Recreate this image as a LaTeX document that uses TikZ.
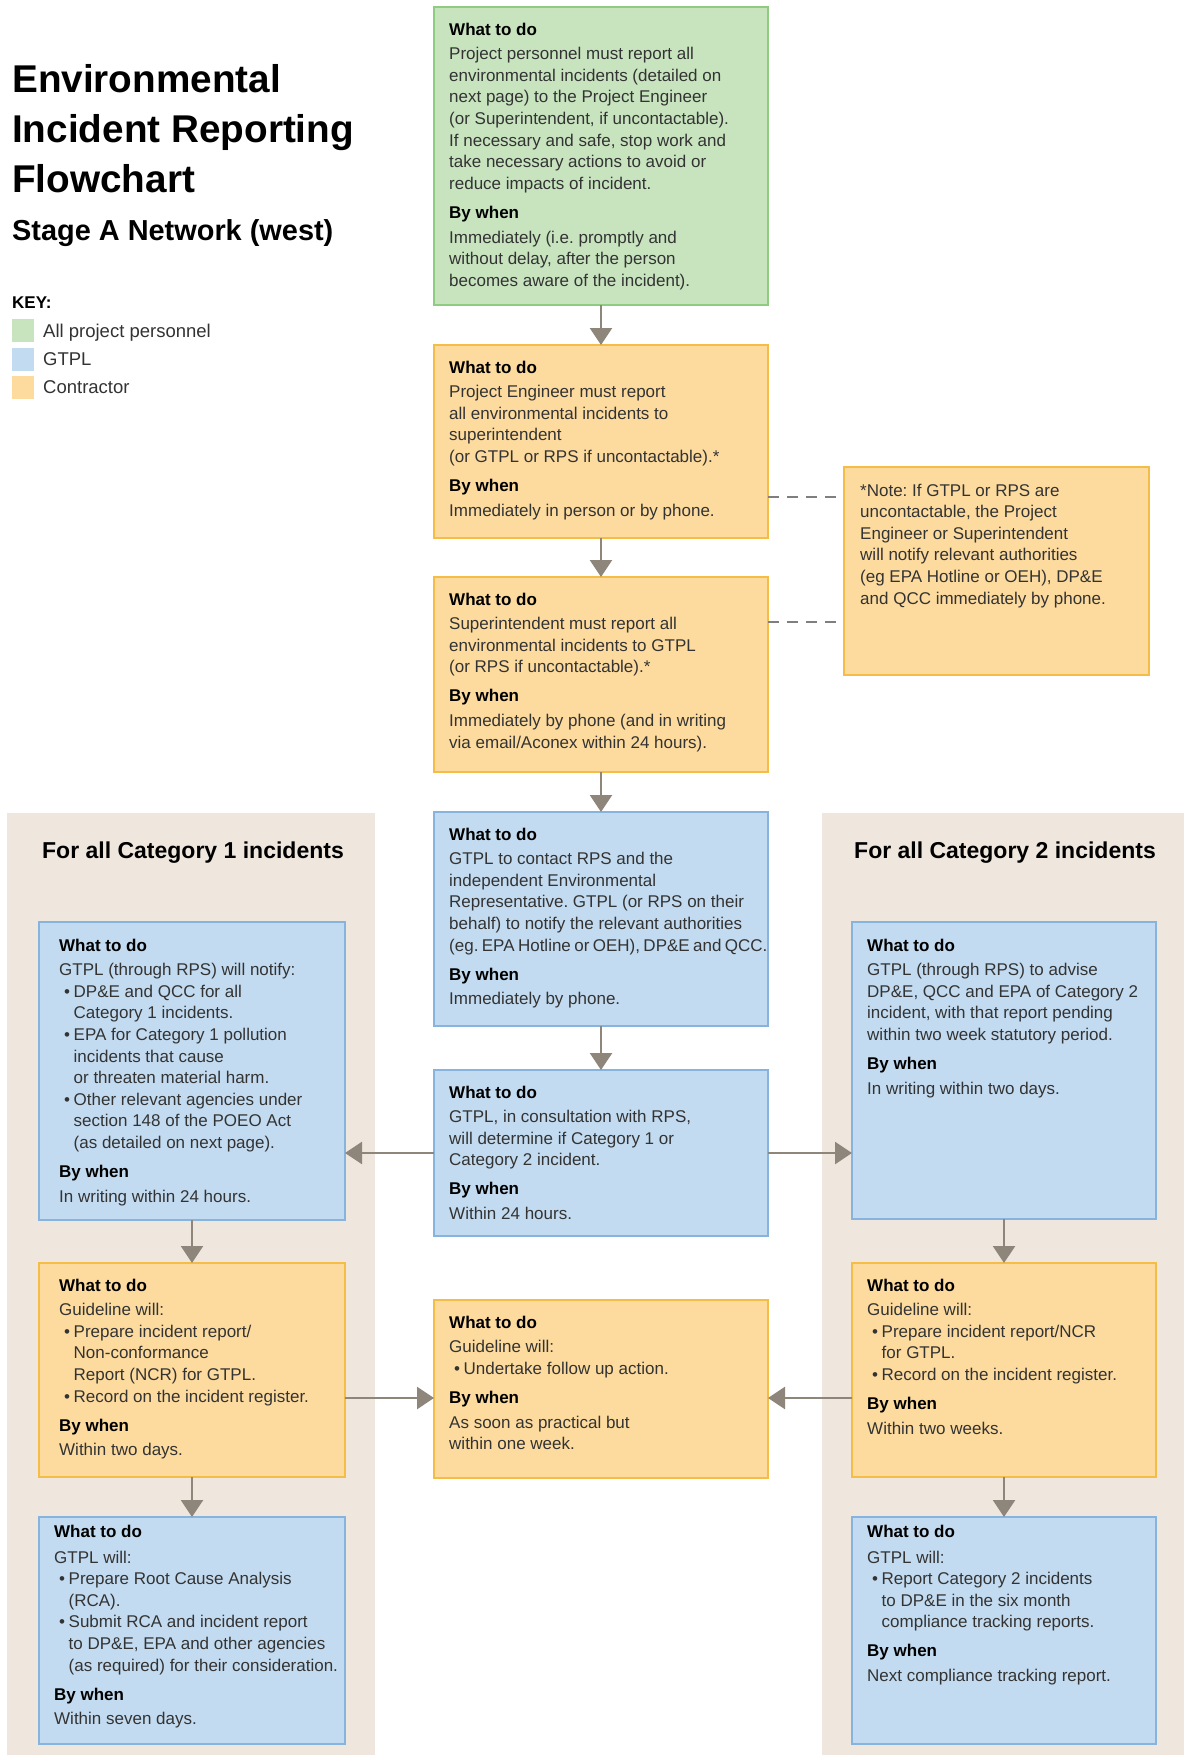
\documentclass[tikz,border=0pt]{standalone}
\usepackage{fontspec}
\setmainfont{Liberation Sans}
\usetikzlibrary{arrows.meta}
\frenchspacing
\definecolor{gfill}{HTML}{C8E4BF}
\definecolor{gline}{HTML}{8FCB80}
\definecolor{bfill}{HTML}{C3DBF0}
\definecolor{bline}{HTML}{86B4DE}
\definecolor{ofill}{HTML}{FDDB9E}
\definecolor{oline}{HTML}{F5BD45}
\definecolor{panelc}{HTML}{EFE7DD}
\definecolor{arrc}{HTML}{8E857B}
\definecolor{bodyc}{HTML}{333333}
\definecolor{dashc}{HTML}{7F7F7F}
\newcommand\hd[1]{{\bfseries\color{black}#1}}
\newcommand\bul{\hspace*{5pt}\makebox[9.5pt][l]{\textbullet}}
\newcommand\ind{\hspace*{14.5pt}}
\tikzset{
  bx/.style={draw, line width=2.5pt, anchor=north west, inner sep=0pt, outer sep=0pt},
  gbox/.style={bx, fill=gfill, draw=gline},
  bbox/.style={bx, fill=bfill, draw=bline},
  obox/.style={bx, fill=ofill, draw=oline},
  panelbox/.style={anchor=north west, fill=panelc, inner sep=0pt, outer sep=0pt},
  txt/.style={anchor=north west, align=left, inner sep=0pt, text=bodyc, font=\fontsize{17}{21.6}\selectfont},
  arr/.style={draw=arrc, line width=2.5pt, -{Triangle[length=17pt,width=22pt]}},
  dsh/.style={draw=dashc, line width=2pt, dash pattern=on 11pt off 8pt},
  keysq/.style={anchor=north west, inner sep=0pt, minimum width=22pt, minimum height=23pt},
  keylbl/.style={anchor=base west, inner sep=0pt, text=bodyc, font=\fontsize{18.5}{22}\selectfont},
  ttl/.style={anchor=base west, inner sep=0pt, font=\fontsize{38.7}{50}\selectfont\bfseries},
  cathd/.style={anchor=base, inner sep=0pt, font=\fontsize{23}{28}\selectfont\bfseries}
}
\begin{document}
\begin{tikzpicture}[x=1pt,y=-1pt]
\fill[white] (0,0) rectangle (1184,1755);
\useasboundingbox (0,0) rectangle (1184,1755);

% panels
\node[panelbox, minimum width=368pt, minimum height=942pt] (lp) at (7,813) {};
\node[panelbox, minimum width=362pt, minimum height=942pt] (rp) at (822,813) {};

% title and key
\node[ttl] (t1) at (12,93) {Environmental};
\node[ttl] (t2) at (12,143) {Incident Reporting};
\node[ttl] (t3) at (12,193) {Flowchart};
\node[anchor=base west, inner sep=0pt, font=\fontsize{28.9}{34}\selectfont\bfseries] (st) at (12,240) {Stage A Network (west)};
\node[anchor=base west, inner sep=0pt, font=\fontsize{17}{20}\selectfont\bfseries] (key) at (12,308) {KEY:};
\node[keysq, fill=gfill] (k1) at (12,319) {};
\node[keysq, fill=bfill] (k2) at (12,348) {};
\node[keysq, fill=ofill] (k3) at (12,376) {};
\node[keylbl] (kl1) at (43,337) {All project personnel};
\node[keylbl] (kl2) at (43,365) {GTPL};
\node[keylbl] (kl3) at (43,393) {Contractor};

% category headings
\node[cathd] (c1) at (193,858) {For all Category 1 incidents};
\node[cathd] (c2) at (1005,858) {For all Category 2 incidents};

% boxes
\node[gbox, minimum width=334pt, minimum height=298pt] (g) at (434,7) {};
\node[obox, minimum width=334pt, minimum height=193pt] (b2) at (434,345) {};
\node[obox, minimum width=334pt, minimum height=195pt] (b3) at (434,577) {};
\node[obox, minimum width=305pt, minimum height=208pt] (nt) at (844,467) {};
\node[bbox, minimum width=334pt, minimum height=214pt] (b4) at (434,812) {};
\node[bbox, minimum width=334pt, minimum height=166pt] (b5) at (434,1070) {};
\node[obox, minimum width=334pt, minimum height=178pt] (m6) at (434,1300) {};
\node[bbox, minimum width=306pt, minimum height=298pt] (l1) at (39,922) {};
\node[obox, minimum width=306pt, minimum height=214pt] (l2) at (39,1263) {};
\node[bbox, minimum width=306pt, minimum height=227pt] (l3) at (39,1517) {};
\node[bbox, minimum width=304pt, minimum height=297pt] (r1) at (852,922) {};
\node[obox, minimum width=304pt, minimum height=214pt] (r2) at (852,1263) {};
\node[bbox, minimum width=304pt, minimum height=227pt] (r3) at (852,1517) {};

% texts
\node[txt] (gt) at ([xshift=15pt,yshift=-15.5pt]g.north west) {\hd{What to do}\\[3.1pt]
Project personnel must report all\\
environmental incidents (detailed on\\
next page) to the Project Engineer\\
(or Superintendent, if uncontactable).\\
If necessary and safe, stop work and\\
take necessary actions to avoid or\\
reduce impacts of incident.\\[7.4pt]
\hd{By when}\\[3.1pt]
Immediately (i.e. promptly and\\
without delay, after the person\\
becomes aware of the incident).};

\node[txt] (b2t) at ([xshift=15pt,yshift=-15.5pt]b2.north west) {\hd{What to do}\\[3.1pt]
Project Engineer must report\\
all environmental incidents to\\
superintendent\\
(or GTPL or RPS if uncontactable).*\\[7.4pt]
\hd{By when}\\[3.1pt]
Immediately in person or by phone.};

\node[txt] (b3t) at ([xshift=15pt,yshift=-15.5pt]b3.north west) {\hd{What to do}\\[3.1pt]
Superintendent must report all\\
environmental incidents to GTPL\\
(or RPS if uncontactable).*\\[7.4pt]
\hd{By when}\\[3.1pt]
Immediately by phone (and in writing\\
via email/Aconex within 24 hours).};

\node[txt] (ntt) at ([xshift=16pt,yshift=-16.5pt]nt.north west) {*Note: If GTPL or RPS are\\
uncontactable, the Project\\
Engineer or Superintendent\\
will notify relevant authorities\\
(eg EPA Hotline or OEH), DP\&E\\
and QCC immediately by phone.};

\node[txt] (b4t) at ([xshift=15pt,yshift=-15.5pt]b4.north west) {\hd{What to do}\\[3.1pt]
GTPL to contact RPS and the\\
independent Environmental\\
Representative. GTPL (or RPS on their\\
behalf) to notify the relevant authorities\\
{\spaceskip=0.2em\relax (eg. EPA Hotline or OEH), DP\&E and QCC.}\\[7.4pt]
\hd{By when}\\[3.1pt]
Immediately by phone.};

\node[txt] (b5t) at ([xshift=15pt,yshift=-15.5pt]b5.north west) {\hd{What to do}\\[3.1pt]
GTPL, in consultation with RPS,\\
will determine if Category 1 or\\
Category 2 incident.\\[7.4pt]
\hd{By when}\\[3.1pt]
Within 24 hours.};

\node[txt] (m6t) at ([xshift=15pt,yshift=-15.5pt]m6.north west) {\hd{What to do}\\[3.1pt]
Guideline will:\\
\bul Undertake follow up action.\\[7.4pt]
\hd{By when}\\[3.1pt]
As soon as practical but\\
within one week.};

\node[txt] (l1t) at ([xshift=20pt,yshift=-16.5pt]l1.north west) {\hd{What to do}\\[3.1pt]
GTPL (through RPS) will notify:\\
\bul DP\&E and QCC for all\\
\ind Category 1 incidents.\\
\bul EPA for Category 1 pollution\\
\ind incidents that cause\\
\ind or threaten material harm.\\
\bul Other relevant agencies under\\
\ind section 148 of the POEO Act\\
\ind (as detailed on next page).\\[7.4pt]
\hd{By when}\\[3.1pt]
In writing within 24 hours.};

\node[txt] (l2t) at ([xshift=20pt,yshift=-15.5pt]l2.north west) {\hd{What to do}\\[3.1pt]
Guideline will:\\
\bul Prepare incident report/\\
\ind Non-conformance\\
\ind Report (NCR) for GTPL.\\
\bul Record on the incident register.\\[7.4pt]
\hd{By when}\\[3.1pt]
Within two days.};

\node[txt] (l3t) at ([xshift=15pt,yshift=-8pt]l3.north west) {\hd{What to do}\\[4pt]
GTPL will:\\
\bul Prepare Root Cause Analysis\\
\ind (RCA).\\
\bul Submit RCA and incident report\\
\ind to DP\&E, EPA and other agencies\\
\ind (as required) for their consideration.\\[7.4pt]
\hd{By when}\\[3.1pt]
Within seven days.};

\node[txt] (r1t) at ([xshift=15pt,yshift=-16.5pt]r1.north west) {\hd{What to do}\\[3.1pt]
GTPL (through RPS) to advise\\
DP\&E, QCC and EPA of Category 2\\
incident, with that report pending\\
within two week statutory period.\\[7.4pt]
\hd{By when}\\[3.1pt]
In writing within two days.};

\node[txt] (r2t) at ([xshift=15pt,yshift=-15.5pt]r2.north west) {\hd{What to do}\\[3.1pt]
Guideline will:\\
\bul Prepare incident report/NCR\\
\ind for GTPL.\\
\bul Record on the incident register.\\[7.4pt]
\hd{By when}\\[3.1pt]
Within two weeks.};

\node[txt] (r3t) at ([xshift=15pt,yshift=-8pt]r3.north west) {\hd{What to do}\\[4pt]
GTPL will:\\
\bul Report Category 2 incidents\\
\ind to DP\&E in the six month\\
\ind compliance tracking reports.\\[7.4pt]
\hd{By when}\\[3.1pt]
Next compliance tracking report.};

% connectors
\draw[arr] (g.south) -- (b2.north);
\draw[arr] (b2.south) -- (b3.north);
\draw[arr] (b3.south) -- (b4.north);
\draw[arr] (b4.south) -- (b5.north);
\draw[arr] (b5.west) -- (b5.west -| l1.east);
\draw[arr] (b5.east) -- (b5.east -| r1.west);
\draw[arr] (l1.south) -- (l2.north);
\draw[arr] (l2.south) -- (l3.north);
\draw[arr] (r1.south) -- (r2.north);
\draw[arr] (r2.south) -- (r3.north);
\draw[arr] ([yshift=-28pt]l2.east) -- ([yshift=-28pt]l2.east -| m6.west);
\draw[arr] ([yshift=-28pt]r2.west) -- ([yshift=-28pt]r2.west -| m6.east);
\draw[dsh] ([yshift=-152pt]b2.north east) -- ([yshift=-152pt]b2.north east -| nt.west);
\draw[dsh] ([yshift=-45pt]b3.north east) -- ([yshift=-45pt]b3.north east -| nt.west);
\end{tikzpicture}
\end{document}
